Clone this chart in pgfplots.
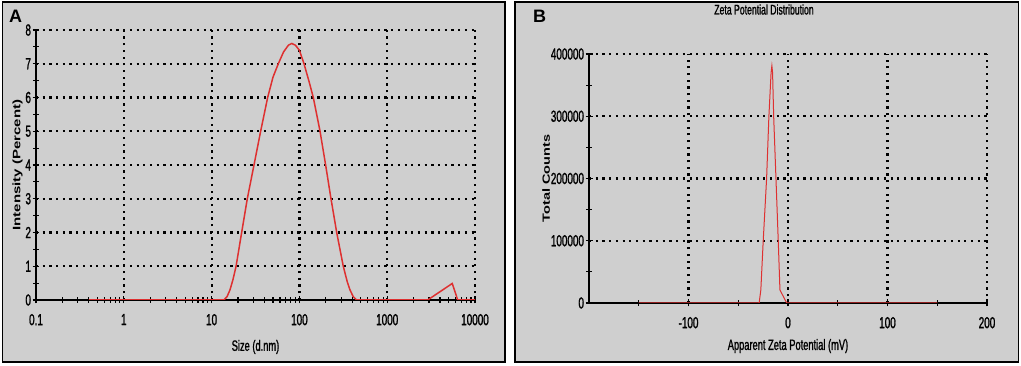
\documentclass[border=0pt]{standalone}
\usepackage{graphicx}
\usepackage{fontspec}
\setmainfont{Liberation Sans}
\newfontfamily\narrowfont[FakeStretch=0.62, FakeBold=1.2]{Liberation Sans}
\usepackage{pgfplots}
\pgfplotsset{compat=1.18}
\definecolor{panelgray}{RGB}{207,207,207}
\definecolor{curvered}{RGB}{222,48,48}
\newcommand\tickfont{\narrowfont\fontsize{16}{16}\selectfont}
\pgfplotsset{
  dlsstyle/.style={
    scale only axis,
    anchor=south west,
    axis x line*=bottom, axis y line*=left,
    axis line style={black, line width=1.6pt, -},
    grid=major,
    major grid style={black, line width=2.2pt, dash pattern=on 2.2pt off 4.5pt},
    tick align=center,
    major tick length=7pt, minor tick length=6pt,
    every tick/.style={black, line width=1.2pt},
    every minor tick/.style={black, line width=1.2pt},
    ticklabel style={font=\tickfont},
    xticklabel style={yshift=-7pt},
    yticklabel style={xshift=2pt},
    xlabel style={font=\narrowfont\fontsize{15}{15}\selectfont, anchor=center},
    ylabel style={anchor=center},
  }
}
\begin{document}
\begin{tikzpicture}
\path[use as bounding box, fill=white] (0,0) rectangle (1021pt,366pt);
\draw[black, line width=1.3pt, fill=panelgray] (2.5pt,4pt) rectangle (505pt,364pt);
\draw[black, line width=1.3pt, fill=panelgray] (515pt,4pt) rectangle (1018.5pt,364pt);
\node[anchor=north west, inner sep=0pt, font=\bfseries\fontsize{18}{18}\selectfont] at (9pt,356pt) {A};
\node[anchor=north west, inner sep=0pt, font=\bfseries\fontsize{18}{18}\selectfont] at (533pt,356pt) {B};
\node[anchor=center, inner sep=0pt, font=\narrowfont\fontsize{14}{14}\selectfont] at (764pt,356.5pt) {Zeta Potential Distribution};

\begin{axis}[
  dlsstyle,
  at={(36pt,66pt)}, width=439pt, height=270pt,
  xmode=log, xmin=0.1, xmax=10000, ymin=0, ymax=8,
  xtick={0.1,1,10,100,1000,10000},
  xticklabels={0.1,1,10,100,1000,10000},
  minor xtick={0.2,0.3,0.4,0.5,0.6,0.7,0.8,0.9,2,3,4,5,6,7,8,9,20,30,40,50,60,70,80,90,200,300,400,500,600,700,800,900,2000,3000,4000,5000,6000,7000,8000,9000},
  ytick={0,1,2,3,4,5,6,7,8},
  yticklabels={0,1,2,3,4,5,6,7,8},
  minor ytick={0.5,1.5,2.5,3.5,4.5,5.5,6.5,7.5},
  xlabel={Size (d.nm)},
  xlabel style={at={(axis description cs:0.5,-0.174)}},
  ylabel={\scalebox{1}[0.72]{\bfseries\fontsize{15}{15}\selectfont Intensity (Percent)}},
  ylabel style={at={(axis description cs:-0.042,0.5)}},
]
\addplot[curvered, line width=1.5pt] coordinates {
(0.4,0) (13.8,0) (15,0.1) (16.2,0.3) (17.5,0.6) (19.0,1.0) (22.0,2.0) (25.5,3.0)
(30.4,4.0) (36.2,5.0) (43.5,6.0) (50,6.6) (57.5,7.0) (66,7.35) (75,7.55) (82,7.6)
(90,7.55) (100,7.4) (112.8,7.0) (128,6.5) (144,6.0) (171.8,5.0) (199,4.0) (229,3.0)
(266,2.0) (316,1.0) (350,0.55) (377,0.3) (410,0.1) (449,0) (2890,0) (5510,0.49)
(6350,0) (10000,0)
};
\end{axis}

\begin{axis}[
  dlsstyle,
  at={(589pt,63pt)}, width=398pt, height=249pt,
  xmin=-200, xmax=200, ymin=0, ymax=400000,
  scaled y ticks=false,
  xtick={-100,0,100,200},
  xticklabels={-100,0,100,200},
  minor xtick={-150,-50,50,150},
  ytick={0,100000,200000,300000,400000},
  yticklabels={0,100000,200000,300000,400000},
  minor ytick={50000,150000,250000,350000},
  xlabel={Apparent Zeta Potential (mV)},
  xlabel style={at={(axis description cs:0.5,-0.173)}},
  ylabel={\scalebox{1}[0.72]{\bfseries\fontsize{14.5}{14.5}\selectfont Total Counts}},
  ylabel style={at={(axis description cs:-0.108,0.5)}},
]
\addplot[curvered, line width=1.0pt] coordinates {
(-150,0) (-29,0) (-27.3,21000) (-24.9,100000) (-21.5,200000) (-19.2,300000)
(-17,370000) (-16.2,381000) (-15.5,370000) (-14.4,300000) (-12.1,200000)
(-9.8,100000) (-8.1,21000) (-1.3,0) (150,0)
};
\end{axis}
\end{tikzpicture}
\end{document}
